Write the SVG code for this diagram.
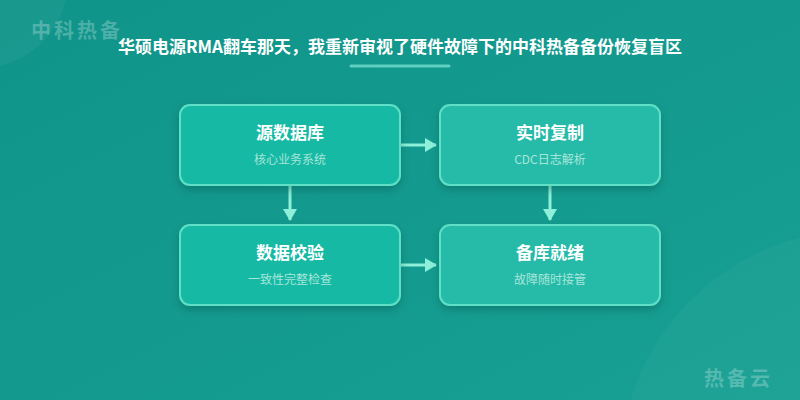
<svg xmlns="http://www.w3.org/2000/svg" width="800" height="400" viewBox="0 0 800 400">
<defs>
<linearGradient id="bg" x1="0" y1="0" x2="1" y2="1">
<stop offset="0" stop-color="#10948a"/>
<stop offset="1" stop-color="#17a093"/>
</linearGradient>
<filter id="sh" x="-20%" y="-30%" width="140%" height="170%">
<feDropShadow dx="0" dy="4" stdDeviation="4" flood-color="#04463f" flood-opacity="0.35"/>
</filter>
<marker id="ah" viewBox="0 0 12 14" refX="11" refY="7" markerWidth="12" markerHeight="14" markerUnits="userSpaceOnUse" orient="auto">
<path d="M0,0 L12,7 L0,14 Z" fill="#8ef0d9"/>
</marker>
<style>
.box{stroke:#5fe0c6;stroke-width:2}
.a{fill:#17b9a4}
.b{fill:#26baa8}
.t{font-family:"Noto Sans CJK SC","Noto Sans",sans-serif;font-weight:700;font-size:17px;fill:#ffffff;text-anchor:middle}
.s{font-family:"Noto Sans CJK SC","Noto Sans",sans-serif;font-size:12px;fill:#a6e6da;text-anchor:middle}
.wm{font-family:"Noto Sans CJK SC","Noto Sans",sans-serif;font-weight:700;font-size:20px;fill:#ffffff;fill-opacity:0.25;letter-spacing:3px}
.c{stroke:#8ef0d9;stroke-width:3;fill:none}
</style>
</defs>
<rect width="800" height="400" fill="url(#bg)"/>
<circle cx="-20" cy="-20" r="88" fill="#ffffff" fill-opacity="0.04"/>
<circle cx="860" cy="470" r="240" fill="#ffffff" fill-opacity="0.03"/>
<text class="wm" x="31" y="38">中科热备</text>
<text class="wm" x="704" y="386">热备云</text>
<text x="400" y="53" font-family="'Noto Sans CJK SC','Noto Sans',sans-serif" font-weight="700" font-size="17" fill="#ffffff" text-anchor="middle">华硕电源RMA翻车那天，我重新审视了硬件故障下的中科热备备份恢复盲区</text>
<line x1="351" y1="66" x2="449" y2="66" stroke="#5fd0bf" stroke-width="3" stroke-linecap="round"/>
<g id="connectors">
<line class="c" x1="400" y1="145" x2="436" y2="145" marker-end="url(#ah)"/>
<line class="c" x1="290" y1="185" x2="290" y2="220" marker-end="url(#ah)"/>
<line class="c" x1="550" y1="185" x2="550" y2="220" marker-end="url(#ah)"/>
<line class="c" x1="400" y1="265" x2="436" y2="265" marker-end="url(#ah)"/>
</g>
<g id="node1">
<rect class="box a" x="180" y="105" width="220" height="80" rx="10" filter="url(#sh)"/>
<text class="t" x="290" y="139">源数据库</text>
<text class="s" x="290" y="164">核心业务系统</text>
</g>
<g id="node2">
<rect class="box b" x="440" y="105" width="220" height="80" rx="10" filter="url(#sh)"/>
<text class="t" x="550" y="139">实时复制</text>
<text class="s" x="550" y="164">CDC日志解析</text>
</g>
<g id="node3">
<rect class="box a" x="180" y="225" width="220" height="80" rx="10" filter="url(#sh)"/>
<text class="t" x="290" y="259">数据校验</text>
<text class="s" x="290" y="284">一致性完整检查</text>
</g>
<g id="node4">
<rect class="box b" x="440" y="225" width="220" height="80" rx="10" filter="url(#sh)"/>
<text class="t" x="550" y="259">备库就绪</text>
<text class="s" x="550" y="284">故障随时接管</text>
</g>
</svg>
